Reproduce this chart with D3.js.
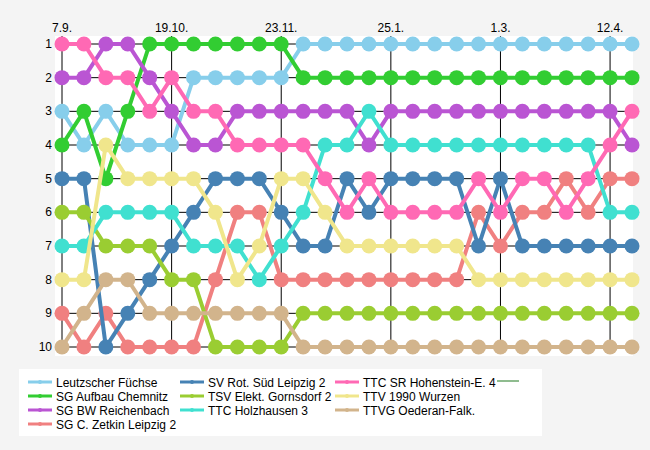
<!DOCTYPE html>
<html><head><meta charset="utf-8">
<script src="https://cdn.jsdelivr.net/npm/d3@7"></script>
<style>body{margin:0;background:#f4f4f4;font-family:"Liberation Sans",Arial,sans-serif;}</style>
</head><body><svg id="chart" width="650" height="450"></svg>
<script>
// round dates shown on top axis (index -> label)
var tickIdx = [0, 5, 10, 15, 20, 25];
var tickLabels = ["7.9.", "19.10.", "23.11.", "25.1.", "1.3.", "12.4."];
var ranks = [1, 2, 3, 4, 5, 6, 7, 8, 9, 10];

var teams = ["Leutzscher Füchse", "SG Aufbau Chemnitz", "SG BW Reichenbach", "SG C. Zetkin Leipzig 2",
  "SV Rot. Süd Leipzig 2", "TSV Elekt. Gornsdorf 2", "TTC Holzhausen 3",
  "TTC SR Hohenstein-E. 4", "TTV 1990 Wurzen", "TTVG Oederan-Falk."];
var colors = ["#87CEEB", "#32CD32", "#BA55D3", "#F08080", "#4682B4", "#9ACD32", "#40E0D0", "#FF69B4", "#F0E68C", "#D2B48C"];

var leutzscher = [3,4,3,4,4,4,2,2,2,2,2,1,1,1,1,1,1,1,1,1,1,1,1,1,1,1,1];
var aufbau     = [4,3,5,3,1,1,1,1,1,1,1,2,2,2,2,2,2,2,2,2,2,2,2,2,2,2,2];
var reichenbach= [2,2,1,1,2,3,4,4,3,3,3,3,3,3,4,3,3,3,3,3,3,3,3,3,3,3,4];
var zetkin     = [9,10,9,10,10,10,10,8,6,6,8,8,8,8,8,8,8,8,8,6,7,6,6,5,6,5,5];
var rotSued    = [5,5,10,9,8,7,6,5,5,5,6,7,7,5,6,5,5,5,5,7,5,7,7,7,7,7,7];
var gornsdorf  = [6,6,7,7,7,8,8,10,10,10,10,9,9,9,9,9,9,9,9,9,9,9,9,9,9,9,9];
var holzhausen = [7,7,6,6,6,6,7,7,7,8,7,6,4,4,3,4,4,4,4,4,4,4,4,4,4,6,6];
var hohenstein = [1,1,2,2,3,2,3,3,4,4,4,4,5,6,5,6,6,6,6,5,6,5,5,6,5,4,3];
var wurzen     = [8,8,4,5,5,5,5,6,8,7,5,5,6,7,7,7,7,7,7,8,8,8,8,8,8,8,8];
var oederan    = [10,9,8,8,9,9,9,9,9,9,9,10,10,10,10,10,10,10,10,10,10,10,10,10,10,10,10];

var series = [leutzscher, aufbau, reichenbach, zetkin, rotSued, gornsdorf, holzhausen, hohenstein, wurzen, oederan];

var svg = d3.select("#chart");
var x = d3.scaleLinear().domain([0, 26]).range([62, 632]);
var y = d3.scaleLinear().domain([1, 10]).range([44, 347]);

// plot background
svg.append("rect").attr("x", 55).attr("y", 36).attr("width", 578).attr("height", 320).attr("fill", "#fff");

// grid
svg.selectAll(".hg").data(ranks).enter().append("line")
  .attr("x1", 62).attr("x2", 632).attr("y1", d => y(d)).attr("y2", d => y(d))
  .attr("stroke", "#000").attr("stroke-width", 1);
svg.selectAll(".vg").data(tickIdx).enter().append("line")
  .attr("x1", d => x(d)).attr("x2", d => x(d)).attr("y1", 36).attr("y2", 352)
  .attr("stroke", "#000").attr("stroke-width", 1);

// axis labels
svg.selectAll(".xl").data(tickIdx).enter().append("text")
  .attr("x", d => x(d)).attr("y", 32).attr("text-anchor", "middle")
  .attr("font-size", 12).text((d, i) => tickLabels[i]);
svg.selectAll(".yl").data(ranks).enter().append("text")
  .attr("x", 52).attr("y", d => y(d) + 4).attr("text-anchor", "end")
  .attr("font-size", 12).text(d => d);

var line = d3.line().x((d, i) => x(i)).y(d => y(d));

series.forEach(function (s, k) {
  var g = svg.append("g");
  g.append("path").attr("d", line(s)).attr("fill", "none")
    .attr("stroke", colors[k]).attr("stroke-width", 4);
  g.selectAll("circle").data(s).enter().append("circle")
    .attr("cx", (d, i) => x(i)).attr("cy", d => y(d)).attr("r", 7.5)
    .attr("fill", colors[k]);
});

// legend
svg.append("rect").attr("x", 19).attr("y", 369).attr("width", 523).attr("height", 67).attr("fill", "#fff");
var colX = [28, 180, 335];
teams.forEach(function (t, k) {
  var col = k < 4 ? 0 : (k < 7 ? 1 : 2);
  var row = k < 4 ? k : (k < 7 ? k - 4 : k - 7);
  var lx = colX[col], ly = 382 + row * 14;
  svg.append("line").attr("x1", lx).attr("x2", lx + 24).attr("y1", ly).attr("y2", ly)
    .attr("stroke", colors[k]).attr("stroke-width", 3);
  svg.append("circle").attr("cx", lx + 12).attr("cy", ly).attr("r", 2).attr("fill", colors[k]);
  svg.append("text").attr("x", lx + 28).attr("y", ly + 4.5).attr("font-size", 12).attr("fill", "#000").text(t);
});
svg.append("line").attr("x1", 497).attr("x2", 519).attr("y1", 381).attr("y2", 381)
  .attr("stroke", "#8FBC8F").attr("stroke-width", 2);
</script></body></html>
